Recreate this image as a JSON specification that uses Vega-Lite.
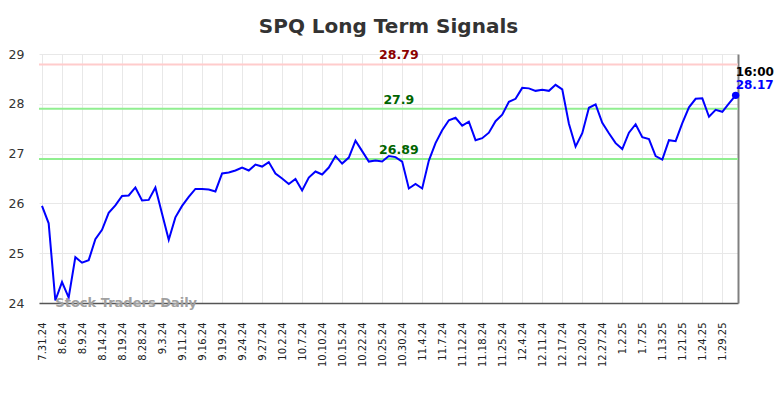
{
  "$schema": "https://vega.github.io/schema/vega-lite/v6.json",
  "width": 699,
  "height": 249,
  "autosize": "none",
  "padding": {"left": 39, "top": 54, "right": 46, "bottom": 95},
  "background": "white",
  "config": {"view": {"stroke": null}, "font": "DejaVu Sans"},
  "title": {"text": "SPQ Long Term Signals", "fontSize": 20, "font": "DejaVu Sans", "fontWeight": "bold", "color": "#333333", "anchor": "middle", "offset": 11},
  "datasets": {
    "prices": [
      {"i":0,"v":25.95},{"i":1,"v":25.60},{"i":2,"v":24.05},{"i":3,"v":24.42},{"i":4,"v":24.11},
      {"i":5,"v":24.92},{"i":6,"v":24.81},{"i":7,"v":24.86},{"i":8,"v":25.28},{"i":9,"v":25.47},
      {"i":10,"v":25.81},{"i":11,"v":25.96},{"i":12,"v":26.15},{"i":13,"v":26.16},{"i":14,"v":26.32},
      {"i":15,"v":26.06},{"i":16,"v":26.07},{"i":17,"v":26.32},{"i":18,"v":25.79},{"i":19,"v":25.27},
      {"i":20,"v":25.72},{"i":21,"v":25.95},{"i":22,"v":26.13},{"i":23,"v":26.29},{"i":24,"v":26.29},
      {"i":25,"v":26.28},{"i":26,"v":26.24},{"i":27,"v":26.60},{"i":28,"v":26.62},{"i":29,"v":26.66},
      {"i":30,"v":26.72},{"i":31,"v":26.66},{"i":32,"v":26.78},{"i":33,"v":26.74},{"i":34,"v":26.83},
      {"i":35,"v":26.60},{"i":36,"v":26.50},{"i":37,"v":26.39},{"i":38,"v":26.49},{"i":39,"v":26.26},
      {"i":40,"v":26.52},{"i":41,"v":26.64},{"i":42,"v":26.58},{"i":43,"v":26.72},{"i":44,"v":26.95},
      {"i":45,"v":26.80},{"i":46,"v":26.92},{"i":47,"v":27.26},{"i":48,"v":27.05},{"i":49,"v":26.84},
      {"i":50,"v":26.86},{"i":51,"v":26.84},{"i":52,"v":26.95},{"i":53,"v":26.93},{"i":54,"v":26.84},
      {"i":55,"v":26.30},{"i":56,"v":26.39},{"i":57,"v":26.30},{"i":58,"v":26.86},{"i":59,"v":27.21},
      {"i":60,"v":27.47},{"i":61,"v":27.67},{"i":62,"v":27.72},{"i":63,"v":27.56},{"i":64,"v":27.64},
      {"i":65,"v":27.27},{"i":66,"v":27.31},{"i":67,"v":27.42},{"i":68,"v":27.65},{"i":69,"v":27.78},
      {"i":70,"v":28.04},{"i":71,"v":28.10},{"i":72,"v":28.32},{"i":73,"v":28.31},{"i":74,"v":28.26},
      {"i":75,"v":28.28},{"i":76,"v":28.26},{"i":77,"v":28.38},{"i":78,"v":28.29},{"i":79,"v":27.60},
      {"i":80,"v":27.14},{"i":81,"v":27.41},{"i":82,"v":27.92},{"i":83,"v":27.99},{"i":84,"v":27.62},
      {"i":85,"v":27.41},{"i":86,"v":27.21},{"i":87,"v":27.09},{"i":88,"v":27.42},{"i":89,"v":27.59},
      {"i":90,"v":27.33},{"i":91,"v":27.29},{"i":92,"v":26.95},{"i":93,"v":26.88},{"i":94,"v":27.27},
      {"i":95,"v":27.25},{"i":96,"v":27.61},{"i":97,"v":27.93},{"i":98,"v":28.10},{"i":99,"v":28.11},
      {"i":100,"v":27.74},{"i":101,"v":27.88},{"i":102,"v":27.84},{"i":103,"v":28.01},{"i":104,"v":28.17}
    ],
    "levels": [
      {"i": 53.5, "v": 28.79, "kind": "resistance"},
      {"i": 53.5, "v": 27.9, "kind": "support"},
      {"i": 53.5, "v": 26.89, "kind": "support"}
    ],
    "last": [{"i": 104, "v": 28.17, "time": "16:00"}],
    "mark": [{"i": 2, "v": 24, "label": "Stock Traders Daily"}]
  },
  "layer": [
    {
      "data": {"name": "prices"},
      "mark": {"type": "line", "color": "#0000ff", "strokeWidth": 2, "opacity": 0},
      "encoding": {
        "x": {"field": "i", "type": "quantitative", "scale": {"domain": [-0.45, 104.35], "nice": false, "zero": false},
          "axis": {"values": [0,3,6,9,12,15,18,21,24,27,30,33,36,39,42,45,48,51,54,57,60,63,66,69,72,75,78,81,84,87,90,93,96,99,102],
            "labelExpr": "datum.value == 0 ? '7.31.24' : datum.value == 3 ? '8.6.24' : datum.value == 6 ? '8.9.24' : datum.value == 9 ? '8.14.24' : datum.value == 12 ? '8.19.24' : datum.value == 15 ? '8.28.24' : datum.value == 18 ? '9.3.24' : datum.value == 21 ? '9.11.24' : datum.value == 24 ? '9.16.24' : datum.value == 27 ? '9.19.24' : datum.value == 30 ? '9.24.24' : datum.value == 33 ? '9.27.24' : datum.value == 36 ? '10.2.24' : datum.value == 39 ? '10.7.24' : datum.value == 42 ? '10.10.24' : datum.value == 45 ? '10.15.24' : datum.value == 48 ? '10.22.24' : datum.value == 51 ? '10.25.24' : datum.value == 54 ? '10.30.24' : datum.value == 57 ? '11.4.24' : datum.value == 60 ? '11.7.24' : datum.value == 63 ? '11.12.24' : datum.value == 66 ? '11.18.24' : datum.value == 69 ? '11.25.24' : datum.value == 72 ? '12.4.24' : datum.value == 75 ? '12.11.24' : datum.value == 78 ? '12.17.24' : datum.value == 81 ? '12.20.24' : datum.value == 84 ? '12.27.24' : datum.value == 87 ? '1.2.25' : datum.value == 90 ? '1.7.25' : datum.value == 93 ? '1.13.25' : datum.value == 96 ? '1.21.25' : datum.value == 99 ? '1.24.25' : '1.29.25'",
            "labelAngle": 270, "labelFontSize": 10, "labelColor": "#222222", "labelPadding": 19, "labelOverlap": false, "labelFont": "DejaVu Sans",
            "ticks": false, "grid": true, "gridColor": "#e8e8e8", "domainColor": "#555555", "domainWidth": 1.5, "title": null}},
        "y": {"field": "v", "type": "quantitative", "scale": {"domain": [24, 29], "nice": false, "zero": false},
          "axis": {"values": [24, 25, 26, 27, 28, 29], "title": null, "grid": true, "gridColor": "#e8e8e8", "ticks": false, "domain": false, "labelFontSize": 12.5, "labelColor": "#333333", "labelPadding": 15, "labelFont": "DejaVu Sans"}}
      }
    },
    {
      "data": {"name": "levels"},
      "mark": {"type": "rule", "strokeWidth": 2},
      "encoding": {
        "y": {"field": "v", "type": "quantitative", "scale": {"domain": [24, 29], "nice": false, "zero": false}, "axis": null},
        "color": {"field": "kind", "type": "nominal", "scale": {"domain": ["resistance", "support"], "range": ["#ffcccc", "#90ee90"]}, "legend": null}
      }
    },
    {
      "data": {"name": "prices"},
      "mark": {"type": "line", "color": "#0000ff", "strokeWidth": 2},
      "encoding": {
        "x": {"field": "i", "type": "quantitative", "scale": {"domain": [-0.45, 104.35], "nice": false, "zero": false}, "axis": null},
        "y": {"field": "v", "type": "quantitative", "scale": {"domain": [24, 29], "nice": false, "zero": false}, "axis": null}
      }
    },
    {
      "data": {"name": "levels"},
      "mark": {"type": "text", "fontWeight": "bold", "fontSize": 12.5, "baseline": "bottom", "dy": -2, "font": "DejaVu Sans"},
      "encoding": {
        "x": {"field": "i", "type": "quantitative", "scale": {"domain": [-0.45, 104.35], "nice": false, "zero": false}, "axis": null},
        "y": {"field": "v", "type": "quantitative", "scale": {"domain": [24, 29], "nice": false, "zero": false}, "axis": null},
        "text": {"field": "v", "type": "quantitative"},
        "color": {"field": "kind", "type": "nominal", "scale": {"domain": ["resistance", "support"], "range": ["#8b0000", "#006400"]}, "legend": null}
      }
    },
    {
      "data": {"name": "mark"},
      "mark": {"type": "text", "fontWeight": "bold", "fontSize": 13, "align": "left", "baseline": "middle", "color": "#a0a0a0", "dy": 0, "font": "DejaVu Sans"},
      "encoding": {
        "x": {"field": "i", "type": "quantitative", "scale": {"domain": [-0.45, 104.35], "nice": false, "zero": false}, "axis": null},
        "y": {"field": "v", "type": "quantitative", "scale": {"domain": [24, 29], "nice": false, "zero": false}, "axis": null},
        "text": {"field": "label", "type": "nominal"}
      }
    },
    {
      "data": {"name": "last"},
      "mark": {"type": "point", "filled": true, "color": "#0000ff", "size": 55, "opacity": 1},
      "encoding": {
        "x": {"field": "i", "type": "quantitative", "scale": {"domain": [-0.45, 104.35], "nice": false, "zero": false}, "axis": null},
        "y": {"field": "v", "type": "quantitative", "scale": {"domain": [24, 29], "nice": false, "zero": false},
          "axis": {"orient": "right", "title": null, "labels": false, "ticks": false, "grid": false, "domainColor": "#808080", "domainWidth": 2}}
      }
    },
    {
      "data": {"name": "last"},
      "mark": {"type": "text", "fontWeight": "bold", "fontSize": 12, "align": "left", "baseline": "middle", "color": "#000000", "dy": -23, "dx": 0, "font": "DejaVu Sans"},
      "encoding": {
        "x": {"field": "i", "type": "quantitative", "scale": {"domain": [-0.45, 104.35], "nice": false, "zero": false}, "axis": null},
        "y": {"field": "v", "type": "quantitative", "scale": {"domain": [24, 29], "nice": false, "zero": false}, "axis": null},
        "text": {"field": "time", "type": "nominal"}
      }
    },
    {
      "data": {"name": "last"},
      "mark": {"type": "text", "fontWeight": "bold", "fontSize": 12, "align": "left", "baseline": "middle", "color": "#0000ff", "dy": -10, "dx": 0, "font": "DejaVu Sans"},
      "encoding": {
        "x": {"field": "i", "type": "quantitative", "scale": {"domain": [-0.45, 104.35], "nice": false, "zero": false}, "axis": null},
        "y": {"field": "v", "type": "quantitative", "scale": {"domain": [24, 29], "nice": false, "zero": false}, "axis": null},
        "text": {"field": "v", "type": "quantitative", "format": ".2f"}
      }
    }
  ],
  "resolve": {"scale": {"color": "independent"}, "axis": {"x": "independent", "y": "independent"}}
}
